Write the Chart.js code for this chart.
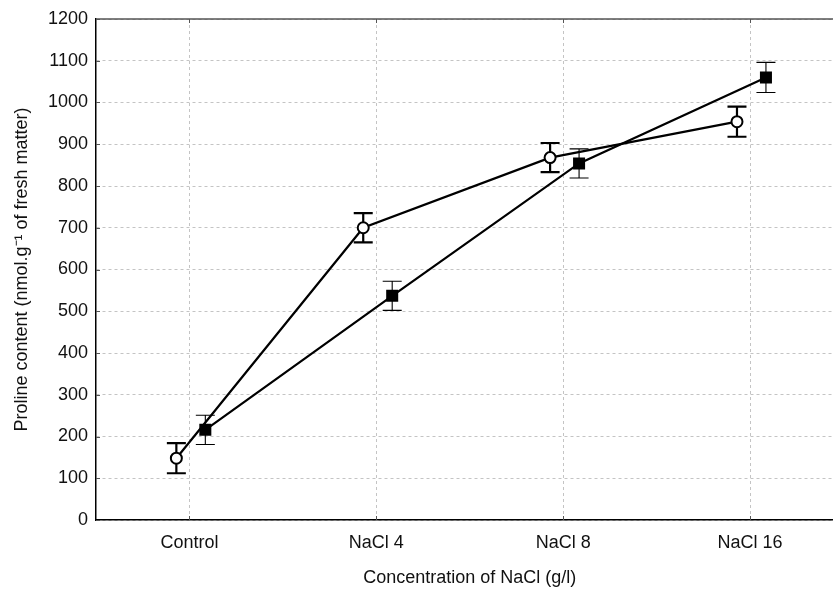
<!DOCTYPE html>
<html>
<head>
<meta charset="utf-8">
<script src="https://cdn.jsdelivr.net/npm/chart.js@4.4.1/dist/chart.umd.min.js"></script>
<style>
  html, body { margin: 0; background: #fff; overflow: hidden; }
  #wrap { width: 852px; height: 590px; }
</style>
</head>
<body>
<div id="wrap"><canvas id="chart"></canvas></div>
<script>
var categories = ["Control", "NaCl 4", "NaCl 8", "NaCl 16"];
var circleMean = [148, 700, 868, 954];
var circleErr = [36, 35, 35, 36];
var squareMean = [216, 537, 854, 1060];
var squareErr = [35, 35, 35, 36];
var yTicks = [0, 100, 200, 300, 400, 500, 600, 700, 800, 900, 1000, 1100, 1200];

var circleShift = -0.07;
var squareShift = 0.085;
var fontFam = "Liberation Sans";

function toPoints(vals, shift) {
  return vals.map(function (v, i) {
    return { x: i + shift, y: v };
  });
}

///error bars + small tick marks + top frame
var extras = {
  id: "extras",
  beforeDatasetsDraw: function (chart) {
    var ctx = chart.ctx;
    var xs = chart.scales.x;
    var ys = chart.scales.y;
    var area = chart.chartArea;
    ctx.save();

    // top frame line
    ctx.strokeStyle = "#555";
    ctx.lineWidth = 1.5;
    ctx.beginPath();
    ctx.moveTo(area.left, area.top);
    ctx.lineTo(area.right, area.top);
    ctx.stroke();

    // inner tick marks
    ctx.lineWidth = 1;
    ctx.strokeStyle = "#555";
    yTicks.forEach(function (t) {
      var py = Math.round(ys.getPixelForValue(t)) + 0.5;
      ctx.beginPath();
      ctx.moveTo(area.left, py);
      ctx.lineTo(area.left + 4, py);
      ctx.stroke();
    });
    categories.forEach(function (c, i) {
      var px = Math.round(xs.getPixelForValue(i)) + 0.5;
      ctx.beginPath();
      ctx.moveTo(px, area.bottom);
      ctx.lineTo(px, area.bottom - 4);
      ctx.moveTo(px, area.top);
      ctx.lineTo(px, area.top + 4);
      ctx.stroke();
    });

    function bars(mean, err, shift, width, cap) {
      ctx.strokeStyle = "#000";
      ctx.lineWidth = width;
      for (var i = 0; i < mean.length; i++) {
        var px = xs.getPixelForValue(i + shift);
        var top = ys.getPixelForValue(mean[i] + err[i]);
        var bot = ys.getPixelForValue(mean[i] - err[i]);
        ctx.beginPath();
        ctx.moveTo(px, top);
        ctx.lineTo(px, bot);
        ctx.moveTo(px - cap, top);
        ctx.lineTo(px + cap, top);
        ctx.moveTo(px - cap, bot);
        ctx.lineTo(px + cap, bot);
        ctx.stroke();
      }
    }
    bars(circleMean, circleErr, circleShift, 2.2, 9.5);
    bars(squareMean, squareErr, squareShift, 1.1, 9.5);
    ctx.restore();
  },
};

var ctx = document.getElementById("chart");
var mychart = new Chart(ctx, {
  type: "line",
  data: {
    datasets: [
      {
        label: "circle",
        data: toPoints(circleMean, circleShift),
        borderColor: "#000",
        borderWidth: 2.2,
        pointStyle: "circle",
        pointRadius: 5.5,
        pointBorderWidth: 2,
        pointBackgroundColor: "#fff",
        pointBorderColor: "#000",
        tension: 0,
        order: 1,
      },
      {
        label: "square",
        data: toPoints(squareMean, squareShift),
        borderColor: "#000",
        borderWidth: 2.2,
        pointStyle: "rect",
        pointRadius: 8.5,
        pointBorderWidth: 0,
        pointBackgroundColor: "#000",
        tension: 0,
        order: 2,
      },
    ],
  },
  options: {
    responsive: true,
    maintainAspectRatio: false,
    animation: false,
    layout: {
      padding: { top: 19, right: 0, left: 0, bottom: 0 },
    },
    plugins: {
      legend: { display: false },
      tooltip: { enabled: false },
    },
    scales: {
      x: {
        type: "linear",
        min: -0.5,
        max: 3.5,
        afterBuildTicks: function (scale) {
          scale.ticks = categories.map(function (c, i) {
            return { value: i };
          });
        },
        afterFit: function (scale) {
          scale.height = 70;
        },
        ticks: {
          callback: function (v) {
            return categories[v];
          },
          color: "#111",
          padding: 12,
          maxRotation: 0,
          font: { family: fontFam, size: 18 },
        },
        grid: {
          color: "#c4c4c4",
          drawTicks: false,
        },
        border: {
          display: true,
          color: "#000",
          width: 1.5,
          dash: [3, 3],
        },
        title: {
          display: true,
          text: "Concentration of NaCl (g/l)",
          color: "#111",
          padding: { top: 0, bottom: 1 },
          font: { family: fontFam, size: 18 },
        },
      },
      y: {
        min: 0,
        max: 1200,
        afterBuildTicks: function (scale) {
          scale.ticks = yTicks.map(function (t) {
            return { value: t };
          });
        },
        afterFit: function (scale) {
          scale.width = 96;
        },
        ticks: {
          callback: function (v) {
            return String(v);
          },
          color: "#111",
          padding: 8,
          font: { family: fontFam, size: 18 },
        },
        grid: {
          color: "#c4c4c4",
          drawTicks: false,
        },
        border: {
          display: true,
          color: "#000",
          width: 1.5,
          dash: [3, 3],
        },
        title: {
          display: true,
          text: "Proline content (nmol.g\u207B\u00B9 of fresh matter)",
          color: "#111",
          padding: { top: 11, bottom: 0 },
          font: { family: fontFam, size: 18 },
        },
      },
    },
  },
  plugins: [extras],
});
</script>
</body>
</html>
